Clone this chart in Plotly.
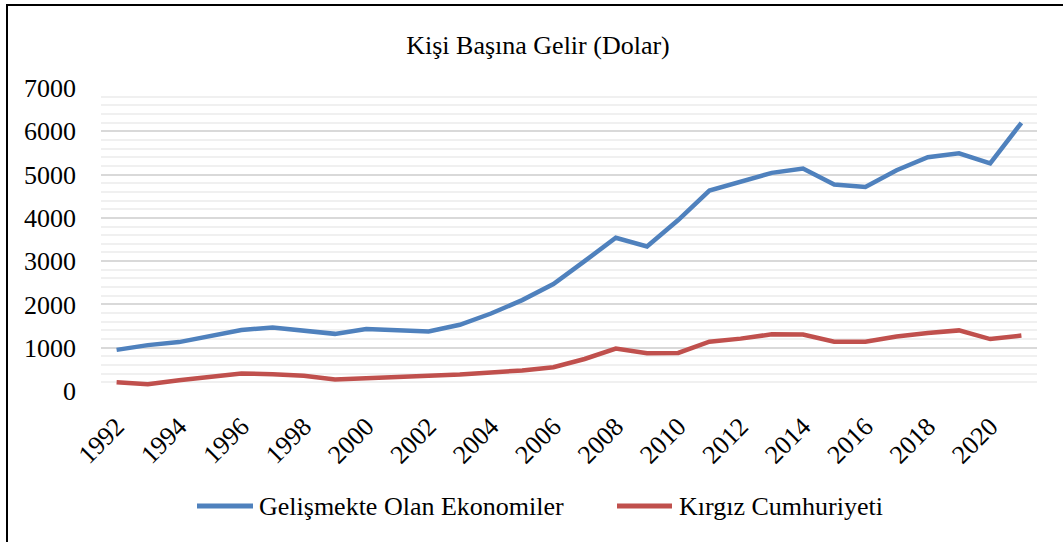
import plotly.graph_objects as go

years = [str(y) for y in range(1992, 2022)]
tick_years = [str(y) for y in range(1992, 2022, 2)]

gelismekte = [950, 1060, 1130, 1280, 1410, 1465, 1380, 1320, 1430, 1410, 1373, 1530,
              1790, 2100, 2470, 3000, 3540, 3340, 3950, 4630, 4845, 5040, 5140, 4770,
              4715, 5100, 5400, 5490, 5260, 6195]
kirgiz = [200, 155, 250, 330, 405, 385, 350, 265, 290, 315, 330, 380,
          430, 475, 550, 740, 980, 870, 880, 1140, 1210, 1310, 1305, 1140,
          1140, 1260, 1340, 1400, 1200, 1280]

series_names = ["Gelişmekte Olan Ekonomiler", "Kırgız Cumhuriyeti"]
colors = ["#4F81BD", "#C0504D"]

FONT = "Liberation Serif"

fig = go.Figure()
for name, vals, col in zip(series_names, [gelismekte, kirgiz], colors):
    fig.add_trace(go.Scatter(x=years, y=vals, mode="lines", name=name, showlegend=False,
                             line=dict(color=col, width=4.5)))

W, H = 1063, 542
L, R, T, B = 101, 26, 88, 151
pw, ph = W - L - R, H - T - B

def px_x(p):
    return (p - L) / pw

def px_y(p):
    return 1 - (p - T) / ph

fig.update_layout(
    width=W, height=H,
    margin=dict(l=L, r=R, t=T, b=B, autoexpand=False),
    paper_bgcolor="white", plot_bgcolor="white",
    font=dict(family=FONT, color="black"),
    title=dict(text="Kişi Başına Gelir (Dolar)", x=538 / W, xanchor="center", xref="container",
               y=1 - 45 / H, yanchor="middle", yref="container",
               font=dict(size=26, family=FONT)),
    showlegend=False,
    xaxis=dict(type="category", range=[-0.5, len(years) - 0.5], automargin=False,
               tickmode="array", tickvals=tick_years, ticktext=tick_years,
               tickangle=-45, tickfont=dict(size=26, family=FONT), showgrid=False,
               showline=False, zeroline=False, ticks="", ticklabelstandoff=14),
    yaxis=dict(range=[0, 7000], tickmode="linear", dtick=1000, showgrid=True, automargin=False,
               gridcolor="#D9D9D9", gridwidth=1.5, zeroline=False, showline=False,
               tickfont=dict(size=26, family=FONT), ticklabelstandoff=24,
               minor=dict(dtick=200, showgrid=True, gridcolor="#F0F0F0", gridwidth=1.5)),
)

# legend (drawn manually to match long legend keys)
legend_items = [(197, 253, 257), (617, 672, 677)]
for (x0, x1, tx), name, col in zip(legend_items, series_names, colors):
    fig.add_shape(type="line", xref="paper", yref="paper",
                  x0=px_x(x0), x1=px_x(x1), y0=px_y(506), y1=px_y(506),
                  line=dict(color=col, width=5))
    fig.add_annotation(xref="paper", yref="paper", x=px_x(tx), y=px_y(506),
                       text=name, showarrow=False, xanchor="left", yanchor="middle",
                       font=dict(size=26, family=FONT, color="black"))

# outer border (top and left edges visible)
fig.add_shape(type="line", xref="paper", yref="paper",
              x0=px_x(6), x1=px_x(W + 5), y0=px_y(5), y1=px_y(5),
              line=dict(color="black", width=2))
fig.add_shape(type="line", xref="paper", yref="paper",
              x0=px_x(7), x1=px_x(7), y0=px_y(5), y1=px_y(H + 5),
              line=dict(color="black", width=2))

fig.write_html("out.html", config={"displayModeBar": False},
               post_script="document.body.style.margin='0';")
